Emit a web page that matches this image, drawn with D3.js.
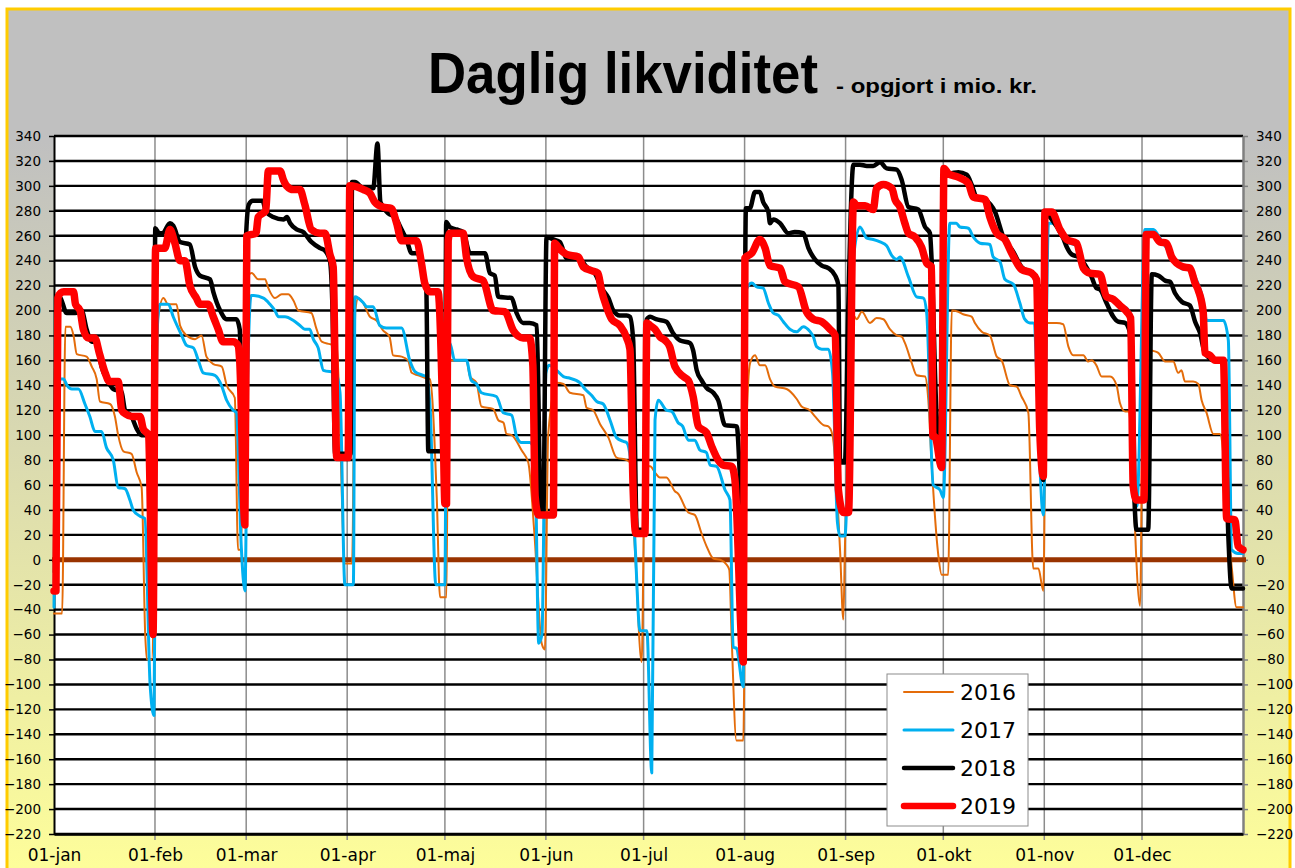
<!DOCTYPE html>
<html><head><meta charset="utf-8">
<script src="https://cdn.jsdelivr.net/npm/d3@7"></script>
<style>html,body{margin:0;padding:0;background:#fff;overflow:hidden}</style>
</head><body>
<svg id="chart" width="1295" height="868"></svg>
<script>
// ---------- DATA ----------
const monthStartDays = [0,31,59,90,120,151,181,212,243,273,304,334];
const monthLabels = ["01-jan","01-feb","01-mar","01-apr","01-maj","01-jun","01-jul","01-aug","01-sep","01-okt","01-nov","01-dec"];
const yTickValues = [-220,-200,-180,-160,-140,-120,-100,-80,-60,-40,-20,0,20,40,60,80,100,120,140,160,180,200,220,240,260,280,300,320,340];
const seriesNames = ["2016","2017","2018","2019"];

// [day of year, value in mio. kr.]
const s2016 = [[0,-43],[2.5,-43],[3.5,187],[5,187],[6,180],[7,165],[10,163],[11.6,155],[13.1,145],[14.1,127],[17.2,125],[18.7,115],[19.7,100],[21.3,87],[23.8,85],[25.4,70],[26.9,58],[28,-60],[28.5,-80],[30,-80],[32,195],[33.6,210],[35,205],[37.6,205],[38.7,188],[40.7,180],[43.3,177],[45.3,180],[46.8,163],[48.9,157],[51.5,155],[53,140],[55.5,130],[56.5,8],[57.2,8],[59.6,228],[60.7,230],[62.7,225],[64.8,225],[65.8,218],[67.8,210],[69.9,213],[71.9,213],[73.5,208],[75,200],[79,198],[80.6,185],[82.2,175],[84.7,173],[86.8,171],[89.3,-3],[91.5,-3],[92.5,200],[93.4,210],[94.9,206],[97,195],[99,192],[101,184],[103,179],[104.1,164],[106.7,163],[108.7,160],[109.8,150],[111.8,148],[113.8,146],[115.4,145],[117.5,50],[118.5,-30],[120.5,-30],[121,160],[126.6,160],[127.7,147],[129.7,142],[131.2,123],[134.8,121],[136.4,112],[138,110],[138.9,101],[140.5,100],[143.5,88],[145.6,78],[147.5,20],[149.7,-67],[150.7,-72],[151.7,100],[154.3,142],[156.4,141],[158.4,134],[162.5,132],[163.5,122],[165.5,120],[167.6,109],[170.2,98],[172.7,82],[175.8,80],[176.8,78],[178.5,0],[180.4,-82],[181.4,75],[183,75],[184.5,70],[186,66],[188,66],[190.6,55],[191.6,53],[194.7,38],[196.7,36],[198.8,21],[200.3,11],[202.4,1],[204.5,0],[206.5,-4],[207.3,-8],[208,-60],[209.5,-145],[211.6,-145],[212.5,100],[213.7,158],[215.2,164],[216.7,156],[218.3,156],[219.8,145],[221.3,139],[224.9,137],[228,129],[229.5,123],[232,120],[233.6,115],[236.2,108],[237.7,107],[239,100],[241.3,8],[242.3,-48],[242.8,10],[245.4,196],[246.4,193],[248,199],[250.5,190],[252.5,194],[254.6,193],[256.6,185],[258.7,180],[260.2,179],[261.2,174],[263.3,158],[264.8,148],[267.4,147],[268.4,128],[269.4,78],[271.5,3],[272.5,-12],[274.5,-12],[275.6,200],[277.6,199],[279.1,197],[281.7,195],[282.7,190],[284.8,183],[287.3,180],[289.4,163],[290.9,160],[293.5,140],[295.5,139],[297,131],[299.1,118],[300.6,-7],[302.2,-7],[303.7,-25],[304.7,190],[307.8,190],[309.8,189],[311.4,171],[312.9,164],[316,164],[317.5,159],[318.5,160],[320,156],[321.6,147],[324.2,147],[326.2,140],[327.2,126],[328.8,119],[329.8,119],[333.4,-37],[334.4,171],[336.9,168],[339,166],[341.1,159],[343.6,159],[345.1,150],[346.1,152],[347.2,143],[349.7,143],[351.3,141],[352.3,128],[353.8,118],[355.9,101],[357.9,101],[361.5,-5],[363,-38],[365,-38]];

const s2017 = [[0,-38],[1,145],[2.9,145],[4,140],[5.5,137],[7.5,137],[9.5,125],[11,115],[12.6,103],[14.6,103],[16.1,90],[18.2,80],[19.7,58],[21.8,57],[23.3,48],[24.3,40],[26.4,35],[27.9,33],[29.5,-100],[30.7,-125],[31.6,180],[32.5,205],[35.1,205],[36.6,195],[39.2,180],[40.7,172],[42.8,170],[44.3,160],[45.8,150],[49.4,148],[51.4,140],[53,128],[55,120],[56,118],[57.5,10],[58.6,-25],[59.5,150],[60.5,212],[61.2,212],[64.3,210],[66.3,205],[67.8,200],[68.9,195],[70.9,195],[73.5,192],[75.5,188],[77,185],[78.5,185],[79.6,177],[81.1,170],[82.7,152],[86.5,150],[87.8,134],[89.3,-20],[91.9,-20],[92.4,211],[95,206],[96,203],[98,203],[100,188],[102,186],[106.7,186],[109.2,160],[110.8,151],[113.3,148],[114.3,147],[115.5,120],[117.2,-20],[120,-20],[120.5,174],[121.5,174],[123,160],[126.6,160],[128.1,144],[129.7,141],[131.2,134],[135.8,131],[137.9,118],[140.5,116],[142,99],[143.5,94],[146.1,94],[147.6,85],[148.8,-67],[149.8,-60],[151,150],[152,156],[154.3,152],[156.4,147],[157.9,146],[161.5,142],[163,137],[165,132],[166.6,127],[168.6,125],[170.7,112],[172.7,98],[174.8,95],[175.8,94],[177,80],[178.3,17],[179.9,-57],[182,-57],[183.5,-171],[184.5,112],[185.5,128],[188,120],[189.6,119],[191.6,110],[193,107],[194.7,96],[196.7,96],[198.3,88],[200.3,86],[201.4,76],[203.4,75],[206,56],[207.5,48],[208.5,-70],[209.5,-71],[211.6,-102],[212.3,215],[214.2,222],[215.7,219],[217.7,218],[219.3,206],[220.8,198],[222.4,196],[223.9,191],[225.9,185],[228,183],[230,187],[232.1,183],[233.1,179],[234.1,171],[235.7,169],[237.7,169],[239,150],[240.5,30],[241.3,19],[242.8,19],[245,230],[247.4,267],[249.5,258],[251.5,257],[253.6,255],[255.6,252],[257.2,244],[258.7,241],[259.7,243],[262.3,227],[264.8,211],[266.9,210],[267.9,198],[269.9,60],[272,56],[273,50],[275,270],[277,270],[278.1,267],[280.7,266],[282.2,259],[284.3,254],[287.3,253],[288.3,243],[290.4,239],[291.9,225],[294.5,221],[296.5,206],[298,193],[299.6,190],[300.6,190],[303.7,36],[305.3,270],[307,270],[308.8,263],[310.9,255],[313.9,252],[316,233],[318,229],[321.1,228],[323.1,211],[325.2,208],[327.5,203],[329.3,202],[330.8,192],[332.4,43],[334.9,265],[337.5,265],[339.5,258],[342.6,246],[346.7,233],[348.7,233],[350.8,224],[352.8,208],[353.8,192],[359,192],[360.5,176],[361.5,8],[363.5,5],[365,5]];

const s2018 = [[0.3,-10],[1,212],[2,210],[3.9,198],[6.5,198],[8.5,200],[10,185],[11.6,175],[13.1,175],[14.6,155],[16.2,145],[18.2,137],[20.7,135],[21.8,120],[23.8,115],[25.4,105],[26.9,100],[28.4,100],[29.7,98],[30.5,0],[31.1,266],[32.3,262],[33.3,262],[35.6,270],[36.6,268],[38.7,255],[41.7,253],[43.3,235],[44.8,228],[47.9,225],[48.9,215],[51,200],[53,193],[56,193],[57,185],[58.3,40],[59,262],[59.8,285],[61,288],[64,288],[65,280],[67.3,275],[70.5,273],[71.5,275],[72.5,270],[74.5,265],[76.5,263],[79,255],[81.7,250],[83.2,248],[84.7,240],[85.5,200],[86.3,85],[91,85],[91.5,303],[92.4,303],[95,298],[98,298],[99.3,334],[100.2,287],[102.6,278],[104.7,275],[106.7,265],[108.2,257],[109.8,246],[111.3,246],[113.3,230],[114.3,216],[114.9,87],[120,87],[120.4,271],[121.5,267],[123.6,265],[125.6,263],[127.7,246],[132.3,246],[133.8,230],[135.3,228],[136.4,211],[140.5,210],[142,198],[144,190],[146,190],[148.2,188],[149.4,41],[150.2,38],[151.2,259],[153.3,257],[155.3,255],[157.4,242],[161,242],[163.5,235],[166,230],[168.1,218],[170.2,210],[171.7,200],[173.7,196],[175.8,196],[176.8,195],[177.8,176],[178.9,24],[181.4,24],[182,193],[183,195],[184.8,193],[188,191],[190,182],[192.2,176],[195.2,174],[196.2,168],[197.3,152],[198.8,144],[200.3,138],[202.4,134],[203.9,128],[206,108],[209.6,107],[210.5,70],[211.6,0],[212.4,282],[213.6,282],[215.2,295],[216.7,295],[217.7,287],[219.3,279],[219.8,270],[220.8,273],[222.9,270],[225.4,262],[227.4,263],[230,262],[231.6,250],[233.6,241],[235.7,236],[237.7,234],[239.8,228],[240.8,220],[241.3,78],[242.8,78],[243.8,200],[245.4,317],[247.4,317],[249.5,316],[251.5,316],[253.6,319],[255.6,314],[258.7,313],[260.2,305],[262.3,283],[265.3,281],[267.4,267],[268.9,262],[269.4,241],[270.9,118],[272.5,80],[273.3,310],[275,310],[277.6,311],[280.2,309],[281.7,301],[283.2,291],[285.8,289],[288.9,279],[291.4,259],[294.5,247],[297,235],[300.1,230],[301.6,225],[302.5,100],[303.7,64],[304.3,278],[306.3,273],[309.8,258],[310.9,251],[312.4,245],[314.4,243],[318.5,227],[320,218],[321.1,217],[323.1,206],[325.2,195],[326.7,191],[328.8,190],[330.3,182],[331.5,60],[332.3,24],[335.9,24],[337,229],[339,228],[341.1,224],[342.6,223],[344.1,214],[346.2,207],[348.7,204],[350.3,191],[351.8,182],[353.3,166],[356.4,160],[359,160],[360.5,19],[361.5,-23],[365,-23]];

const s2019 = [[0,-25],[0.6,-25],[1.2,210],[2,214],[3,215],[6,215],[6.6,205],[8,200],[9,185],[10.5,178],[12.5,178],[14,165],[15.7,150],[17,143],[19.7,143],[20.8,120],[22,117],[24,115],[26.4,115],[27.4,105],[29,100],[30.4,-60],[31.2,250],[34,250],[35.6,265],[37,255],[38.7,240],[40.2,240],[41.7,220],[43.7,210],[44.8,205],[47.3,205],[48.9,195],[50.4,185],[51.9,175],[55,175],[56.5,172],[57,160],[58.6,28],[59.2,260],[62,262],[62.7,275],[65,280],[65.8,312],[69.4,312],[70.4,305],[71.4,300],[73.5,297],[75.5,297],[77,285],[79,265],[81.7,262],[83.2,262],[84.7,245],[85.7,235],[86.8,82],[90.3,82],[90.8,300],[95,297],[97,294],[98.5,287],[101,283],[103.5,282],[105.2,270],[106.7,256],[111.3,256],[112.8,238],[113.8,222],[115.4,215],[117.9,215],[119.5,100],[120,45],[120.5,45],[121,256],[121.5,262],[125.6,262],[126.6,243],[128.7,227],[131.7,224],[134.8,200],[138.4,199],[141,184],[144,178],[146,178],[147,156],[147.7,51],[148.7,36],[153.3,36],[153.7,254],[155,250],[157.4,245],[161,243],[162.5,235],[165,232],[167,230],[168,217],[169.6,203],[171.2,193],[173.7,188],[175.8,178],[176.8,169],[177.8,55],[178.6,21],[181.4,21],[182,190],[183,188],[184.5,185],[186,179],[187.6,176],[189,171],[190.6,155],[193.2,147],[194.7,144],[196.2,131],[197.8,107],[200.3,102],[201.9,91],[203.9,80],[205.5,76],[208,75],[209,65],[211.6,-82],[212.1,242],[214.2,246],[216.7,257],[218.3,250],[219.8,236],[222.9,234],[224.4,223],[228.5,219],[231,199],[233.1,193],[235.7,191],[238.2,185],[239.8,180],[240.8,56],[242.3,38],[243.9,38],[245.4,287],[246.4,284],[249,284],[251.5,281],[252.5,298],[254.6,301],[257.2,298],[258.2,289],[259.7,283],[261.2,270],[262.3,262],[264.3,259],[266.3,251],[267.9,238],[269.4,235],[269.8,99],[270.4,99],[272.5,74],[273.2,314],[274.5,310],[277.6,307],[280.7,302],[282.2,291],[285.8,289],[287.3,275],[289.4,262],[291.9,257],[294,246],[297,233],[300.1,230],[301.6,225],[302.6,104],[303.7,67],[304.2,279],[306.3,279],[308.8,265],[310.9,257],[313.9,254],[316,234],[318,230],[321.1,229],[323.1,211],[325.2,209],[327.2,204],[329.3,199],[330.5,194],[331.3,59],[332.3,48],[334.6,48],[335.3,261],[337.5,261],[339.5,255],[341.5,254],[343.1,243],[344.6,238],[346.7,235],[348.7,234],[350.3,222],[351.3,216],[352.8,198],[353.3,166],[354.9,164],[356.4,160],[359,160],[360,33],[362.5,32],[363.5,11],[365,8]];

const seriesData = [s2016, s2017, s2018, s2019];

// ---------- STYLE ----------
const colors = ["#e46c0a", "#00b0f0", "#000000", "#ff0000"];
const widths = [2, 3, 4.5, 7.5];
const W = 1295, H = 868;
const plot = {left: 54, right: 1243, top: 136, bottom: 834};

const svg = d3.select("#chart");
const defs = svg.append("defs");
const grad = defs.append("linearGradient").attr("id","bg")
  .attr("x1",0).attr("y1",0).attr("x2",0).attr("y2",1);
grad.append("stop").attr("offset","0%").attr("stop-color","#c0c0c0");
grad.append("stop").attr("offset","15%").attr("stop-color","#c0c0c0");
grad.append("stop").attr("offset","100%").attr("stop-color","#ffff99");

svg.append("rect").attr("x",7).attr("y",9).attr("width",1283).attr("height",880)
  .attr("fill","url(#bg)").attr("stroke","#ffcc00").attr("stroke-width",3);

const x = d3.scaleLinear().domain([0,365]).range([plot.left, plot.right]);
const y = d3.scaleLinear().domain([-220,340]).range([plot.bottom, plot.top]);

// plot area
svg.append("rect").attr("x",plot.left).attr("y",plot.top)
  .attr("width",plot.right-plot.left).attr("height",plot.bottom-plot.top).attr("fill","#fff");

// vertical gridlines
svg.append("g").selectAll("line").data(monthStartDays.slice(1)).join("line")
  .attr("x1",d=>x(d)).attr("x2",d=>x(d))
  .attr("y1",plot.top).attr("y2",plot.bottom+6)
  .attr("stroke","#8c8c8c").attr("stroke-width",1.5);

// horizontal gridlines
svg.append("g").selectAll("line").data(yTickValues).join("line")
  .attr("x1",plot.left).attr("x2",plot.right)
  .attr("y1",d=>y(d)).attr("y2",d=>y(d))
  .attr("stroke","#000").attr("stroke-width",2.4);

// axes
const fontTick = "DejaVu Sans, Verdana, sans-serif";
const gl = svg.append("g").attr("transform",`translate(${plot.left},0)`)
  .call(d3.axisLeft(y).tickValues(yTickValues).tickSize(5).tickSizeOuter(0).tickPadding(8));
gl.select(".domain").attr("stroke","#000").attr("stroke-width",2);
gl.selectAll(".tick line").attr("stroke","#000").attr("stroke-width",1.5);
gl.selectAll(".tick text").attr("font-family",fontTick).attr("font-size",13.5).attr("fill","#000");

const gr = svg.append("g").attr("transform",`translate(${plot.right},0)`)
  .call(d3.axisRight(y).tickValues(yTickValues).tickSize(5).tickSizeOuter(0).tickPadding(8));
gr.select(".domain").attr("stroke","#808080").attr("stroke-width",2.5);
gr.selectAll(".tick line").attr("stroke","#808080").attr("stroke-width",1.5);
gr.selectAll(".tick text").attr("font-family",fontTick).attr("font-size",13.5).attr("fill","#000");

const gb = svg.append("g").attr("transform",`translate(0,${plot.bottom})`)
  .call(d3.axisBottom(x).tickValues(monthStartDays).tickFormat((d,i)=>monthLabels[i])
    .tickSize(0).tickSizeOuter(0).tickPadding(15));
gb.select(".domain").attr("stroke","#000").attr("stroke-width",2.4);
gb.selectAll(".tick text").attr("font-family",fontTick).attr("font-size",17).attr("fill","#000");

// zero line
svg.append("line").attr("x1",plot.left-2).attr("x2",plot.right+3)
  .attr("y1",y(0)).attr("y2",y(0)).attr("stroke","#993300").attr("stroke-width",5);

// series
const line = d3.line().x(d=>x(d[0])).y(d=>y(d[1])).curve(d3.curveMonotoneX);
svg.append("g").selectAll("path").data(seriesData).join("path")
  .attr("d",line).attr("fill","none")
  .attr("stroke",(d,i)=>colors[i]).attr("stroke-width",(d,i)=>widths[i])
  .attr("stroke-linejoin","round").attr("stroke-linecap","round");

// title
svg.append("text").attr("x",428).attr("y",93)
  .attr("font-family","Liberation Sans, Arial, sans-serif").attr("font-weight","bold")
  .attr("font-size",57).attr("textLength",390).attr("lengthAdjust","spacingAndGlyphs")
  .attr("fill","#000").text("Daglig likviditet");
svg.append("text").attr("x",836).attr("y",93)
  .attr("font-family","Liberation Sans, Arial, sans-serif").attr("font-weight","bold")
  .attr("font-size",20).attr("textLength",201).attr("lengthAdjust","spacingAndGlyphs")
  .attr("fill","#000").text("- opgjort i mio. kr.");

// legend
const lg = svg.append("g");
lg.append("rect").attr("x",887).attr("y",674).attr("width",141).attr("height",152)
  .attr("fill","#fff").attr("stroke","#8c8c8c").attr("stroke-width",1);
const legY = d3.scalePoint().domain(seriesNames).range([692,806]);
const items = lg.selectAll("g").data(seriesNames).join("g");
items.append("line").attr("x1",904).attr("x2",953)
  .attr("y1",d=>legY(d)).attr("y2",d=>legY(d))
  .attr("stroke",(d,i)=>colors[i]).attr("stroke-width",(d,i)=>widths[i]-(i===3?1:0))
  .attr("stroke-linecap","round");
items.append("text").attr("x",960).attr("y",d=>legY(d)+8)
  .attr("font-family",fontTick).attr("font-size",22).attr("fill","#000").text(d=>d);
</script>
</body></html>
